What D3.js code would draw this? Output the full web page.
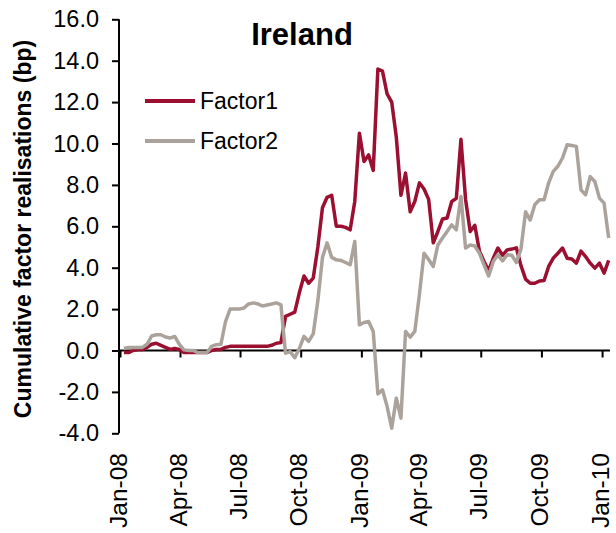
<!DOCTYPE html>
<html>
<head>
<meta charset="utf-8">
<script src="https://cdn.jsdelivr.net/npm/d3@7/dist/d3.min.js"></script>
<style>
	body { margin: 0; background: #fff; }
	text { font-family: 'Liberation Sans', Arial, sans-serif; fill: #000; }
</style>
</head>
<body>
<svg></svg>
<script>
'use strict'

// weekly observations, first one on 7 Jan 2008
let firstWeek = new Date(2008, 0, 7)

let factor1 = [
	-0.1, -0.1, 0.0, 0.05, 0.05, 0.15, 0.3, 0.35, 0.25, 0.15,
	0.05, 0.1, 0.05, -0.1, -0.1, -0.1, -0.1, -0.1, -0.1, 0.0,
	0.05, 0.05, 0.15, 0.2, 0.2, 0.2, 0.2, 0.2, 0.2, 0.2,
	0.2, 0.2, 0.25, 0.35, 0.38, 1.65, 1.75, 1.85, 2.8, 3.6,
	3.25, 3.5, 5.0, 6.9, 7.4, 7.5, 6.0, 6.0, 5.95, 5.83,
	7.2, 10.5, 9.13, 9.45, 8.7, 13.6, 13.5, 12.4, 12.0, 10.3,
	7.5, 8.57, 6.7, 7.2, 8.1, 7.8, 7.3, 5.2, 5.75, 6.35,
	6.4, 7.2, 7.35, 10.2, 7.3, 5.75, 6.05, 4.8, 4.3, 3.85,
	4.46, 4.95, 4.6, 4.86, 4.9, 4.96, 4.1, 3.45, 3.25, 3.25,
	3.36, 3.38, 4.06, 4.46, 4.7, 4.95, 4.46, 4.42, 4.22, 4.8,
	4.54, 4.22, 3.98, 4.22, 3.74, 4.35
]

let factor2 = [
	0.1, 0.15, 0.15, 0.15, 0.15, 0.3, 0.7, 0.76, 0.76, 0.65,
	0.6, 0.68, 0.3, 0.03, 0.0, 0.0, -0.1, -0.1, -0.1, 0.2,
	0.28, 0.3, 1.4, 2.0, 2.0, 2.0, 2.05, 2.25, 2.3, 2.25,
	2.15, 2.2, 2.25, 2.3, 2.2, -0.13, -0.05, -0.35, 0.1, 0.68,
	0.44, 0.8, 2.4, 4.5, 5.2, 4.5, 4.38, 4.35, 4.25, 4.14,
	5.27, 1.24, 1.35, 1.4, 0.92, -2.1, -1.9, -2.7, -3.75, -2.3,
	-3.27, 0.92, 0.65, 0.92, 2.7, 4.7, 4.4, 4.06, 5.1, 5.43,
	5.75, 6.07, 5.83, 7.44, 4.95, 5.1, 5.05, 4.7, 4.14, 3.6,
	4.3, 4.62, 4.33, 4.62, 4.6, 4.25, 4.9, 6.7, 6.3, 7.04,
	7.28, 7.28, 8.1, 8.65, 8.9, 9.3, 9.94, 9.9, 9.86, 7.76,
	7.52, 8.4, 8.16, 7.36, 7.12, 5.43
]

let seriesNames = ['Factor1', 'Factor2']
let seriesColors = ['#9b1030', '#aba39b']
let yTicks = [-4, -2, 0, 2, 4, 6, 8, 10, 12, 14, 16]
let chartTitle = 'Ireland'
let yTitle = 'Cumulative factor realisations (bp)'

let width = 616,
	height = 533

let svg = d3.select('svg')
	.attr('width', width)
	.attr('height', height)

let x = d3.scaleTime()
	.domain([new Date(2008, 0, 1), new Date(2010, 0, 13)])
	.range([120, 610])

let y = d3.scaleLinear()
	.domain([-4, 16])
	.range([433.3, 19.3])

function weekDate(i) {
	return d3.timeDay.offset(firstWeek, i * 7)
}

let series = [factor1, factor2].map(function(vals, k) {
	return {
		name: seriesNames[k],
		color: seriesColors[k],
		values: vals.map(function(v, i) { return { date: weekDate(i), value: v } })
	}
})

let line = d3.line()
	.x(function(d) { return x(d.date) })
	.y(function(d) { return y(d.value) })

// y axis
let yAxis = svg.append('g')
	.attr('transform', 'translate(119,0)')
	.call(d3.axisLeft(y)
		.tickValues(yTicks)
		.tickSize(7)
		.tickPadding(13)
		.tickFormat(function(d) { return d.toFixed(1) }))

yAxis.select('.domain').attr('stroke-width', 2).attr('d', 'M0,' + y(16) + 'V' + y(-4))
yAxis.selectAll('.tick line').attr('stroke-width', 2)
yAxis.selectAll('.tick text').style('font-size', '23.5px')

// x axis sits at zero, labels down at the bottom
let xAxis = svg.append('g')
	.attr('transform', 'translate(0,' + y(0) + ')')
	.call(d3.axisBottom(x)
		.ticks(d3.timeMonth.every(3))
		.tickSize(7)
		.tickFormat(d3.timeFormat('%b-%y')))

xAxis.select('.domain').attr('stroke-width', 2).attr('d', 'M119,0H610')
xAxis.selectAll('.tick line').attr('stroke-width', 2)
xAxis.selectAll('.tick text')
	.style('font-size', '24.5px')
	.attr('text-anchor', 'end')
	.attr('transform', 'translate(0,' + (453 - y(0)) + ') rotate(-90)')
	.attr('x', 0)
	.attr('y', 0)
	.attr('dy', '0.25em')

// series
svg.append('g')
	.selectAll('path')
	.data(series)
	.enter().append('path')
	.attr('fill', 'none')
	.attr('stroke', function(d) { return d.color })
	.attr('stroke-width', 3.5)
	.attr('stroke-linejoin', 'round')
	.attr('d', function(d) { return line(d.values) })

// legend
let legend = svg.append('g')
	.selectAll('g')
	.data(series)
	.enter().append('g')
	.attr('transform', function(d, i) { return 'translate(145,' + (101 + i * 40) + ')' })

legend.append('line')
	.attr('x1', 0)
	.attr('x2', 50)
	.attr('stroke', function(d) { return d.color })
	.attr('stroke-width', 4)

legend.append('text')
	.attr('x', 55)
	.attr('dy', '0.35em')
	.style('font-size', '23px')
	.text(function(d) { return d.name })

svg.append('text')
	.attr('x', 302)
	.attr('y', 45)
	.attr('text-anchor', 'middle')
	.style('font-size', '31px')
	.style('font-weight', 'bold')
	.text(chartTitle)

svg.append('text')
	.attr('transform', 'translate(31,229) rotate(-90)')
	.attr('text-anchor', 'middle')
	.style('font-size', '23px')
	.style('font-weight', 'bold')
	.text(yTitle)
</script>
</body>
</html>
